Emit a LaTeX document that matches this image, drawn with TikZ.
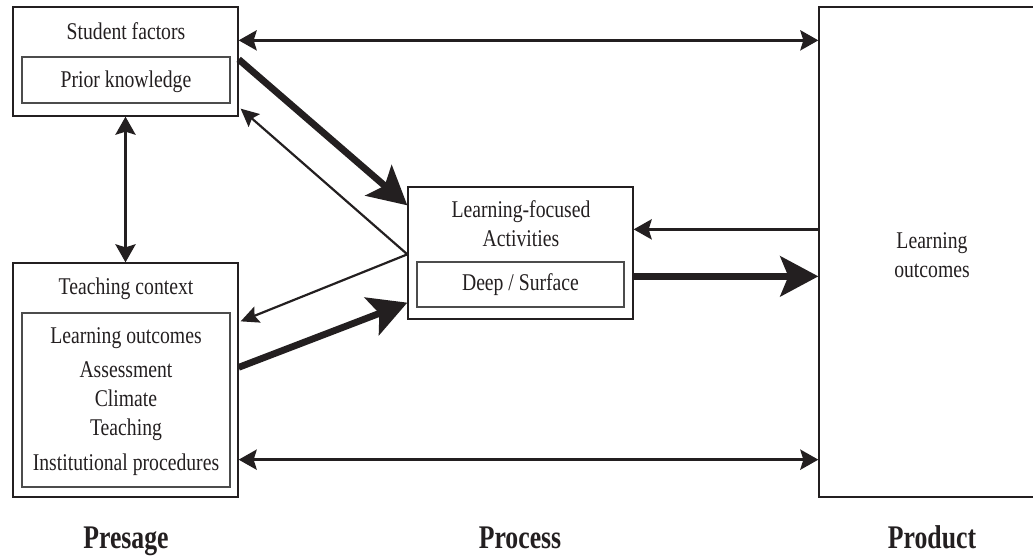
\documentclass[tikz,border=0pt]{standalone}
\usepackage{fontspec}
\setmainfont{Liberation Serif}[FakeStretch=0.82]
\newfontfamily\labfont{Liberation Serif}[FakeStretch=0.78]
\usetikzlibrary{arrows.meta}
\definecolor{ink}{HTML}{231F20}
\tikzset{
  box/.style={draw=ink, line width=1.3pt, inner sep=0pt, rectangle},
  ibox/.style={draw=black!70, line width=1.2pt, inner sep=0pt, rectangle},
  txt/.style={font=\fontsize{24}{26}\selectfont, text=ink, inner sep=0pt, anchor=base},
  lab/.style={font=\labfont\bfseries\fontsize{33}{35}\selectfont, text=ink, inner sep=0pt, anchor=base},
  dbl/.style={draw=ink, line width=3.3pt, {Stealth[length=18pt,width=20pt,inset=3pt]}-{Stealth[length=18pt,width=20pt,inset=3pt]}},
  med/.style={draw=ink, line width=3.4pt, -{Stealth[length=18pt,width=20pt,inset=3pt]}},
  thick/.style={draw=ink, line width=6.8pt, -{Stealth[length=38pt,width=40pt,inset=8pt]}},
  thin/.style={draw=ink, line width=2.2pt, -{Stealth[length=18pt,width=17pt,inset=3pt]}}
}
\begin{document}
\begin{tikzpicture}[x=1pt,y=-1pt]
\useasboundingbox (0,0) rectangle (1033,557);
% boxes
\node[box, minimum width=225pt, minimum height=109pt] (sf) at (125.5,61.5) {};
\node[ibox, minimum width=208pt, minimum height=46pt] (pk) at (126,80) {};
\node[box, minimum width=225pt, minimum height=234pt] (tc) at (125.5,380) {};
\node[ibox, minimum width=208pt, minimum height=174pt] (tci) at (126,400) {};
\node[box, minimum width=225pt, minimum height=132pt] (la) at (520.5,253) {};
\node[ibox, minimum width=207pt, minimum height=45pt] (ds) at (520.5,284.5) {};
\node[box, minimum width=220pt, minimum height=490pt] (lo) at (929,252) {};
% texts
\node[txt] (t1) at (126,39) {Student factors};
\node[txt] (t2) at (126,87) {Prior knowledge};
\node[txt] (t3) at (126,294) {Teaching context};
\node[txt] (t4) at (126,343) {Learning outcomes};
\node[txt] (t5) at (126,377) {Assessment};
\node[txt] (t6) at (126,406) {Climate};
\node[txt] (t7) at (126,435) {Teaching};
\node[txt] (t8) at (126,470) {Institutional procedures};
\node[txt] (t9) at (521,217) {Learning-focused};
\node[txt] (t10) at (521,246) {Activities};
\node[txt] (t11) at (520.5,290) {Deep / Surface};
\node[txt] (t12) at (932,248) {Learning};
\node[txt] (t13) at (932,277) {outcomes};
\node[lab] (p1) at (126,548) {Presage};
\node[lab] (p2) at (520,548) {Process};
\node[lab] (p3) at (932,548) {Product};
% connectors
\coordinate (cv) at ([yshift=-68pt]la.north west);
\draw[dbl] ([yshift=-34pt]sf.north east) -- ([yshift=-34pt]lo.north west);
\draw[dbl] ([yshift=38pt]tc.south east) -- ([yshift=38pt]lo.south west);
\draw[dbl] (sf.south) -- (tc.north);
\draw[thick] ([yshift=-53pt]sf.north east) -- ([yshift=-19pt]la.north west);
\draw[thin] (cv) -- ([xshift=2pt,yshift=8pt]sf.south east);
\draw[thin] (cv) -- ([xshift=2pt,yshift=-59pt]tc.north east);
\draw[thick] ([yshift=-105pt]tc.north east) -- ([yshift=17pt]la.south west);
\draw[med] ([yshift=-223pt]lo.north west) -- ([yshift=-43pt]la.north east);
\draw[thick] ([yshift=-90pt]la.north east) -- ([yshift=-270pt]lo.north west);
\end{tikzpicture}
\end{document}
